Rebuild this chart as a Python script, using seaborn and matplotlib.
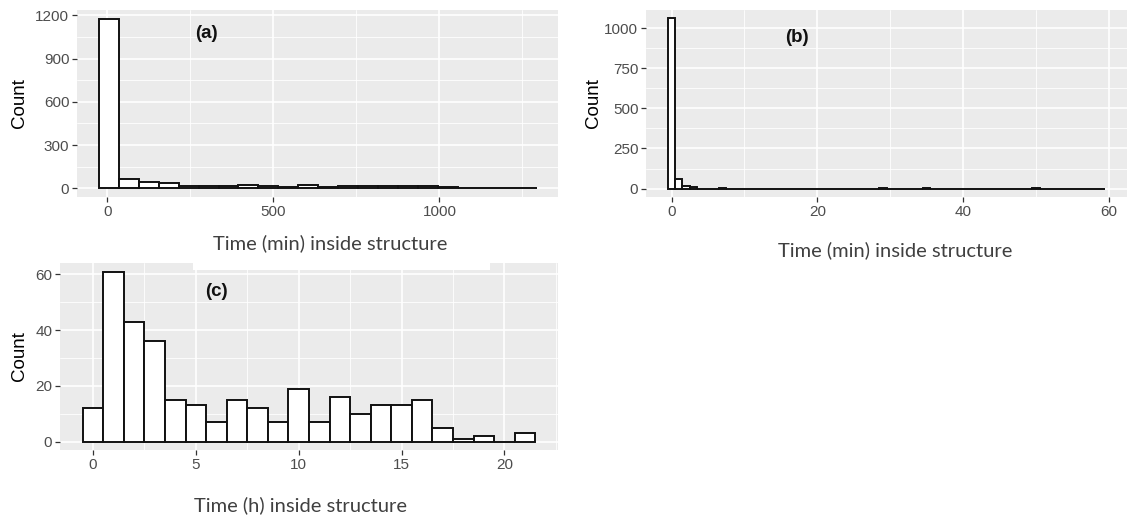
import numpy as np
import pandas as pd
import matplotlib
matplotlib.use("Agg")
import matplotlib.pyplot as plt
import seaborn as sns
from matplotlib.ticker import MultipleLocator
from matplotlib.patches import Rectangle

# ---------------- data (counts per bin) ----------------
# (a) time in minutes, bins of 60 min
counts_a = [1177, 65, 42, 37, 18, 18, 14, 21, 16, 12, 21, 12,
            18, 18, 18, 18, 18, 9, 2, 1, 2, 1]
binwidth_a = 60
first_edge_a = -25

# (b) time in minutes, bins of 1 min (0..59)
counts_b = [1062, 60, 18, 12, 0, 0, 0, 6, 0, 0,
            0, 0, 0, 0, 0, 0, 0, 0, 0, 0,
            0, 0, 0, 0, 0, 0, 0, 0, 0, 6,
            0, 0, 0, 0, 0, 6, 0, 0, 0, 0,
            0, 0, 0, 0, 0, 0, 0, 0, 0, 0,
            6, 0, 0, 0, 0, 0, 0, 0, 0, 0]
binwidth_b = 1
first_edge_b = -0.5

# (c) time in hours, bins of 1 h (0..21)
counts_c = [12, 61, 43, 36, 15, 13, 7, 15, 12, 7, 19, 7,
            16, 10, 13, 13, 15, 5, 1, 2, 0, 3]
binwidth_c = 1
first_edge_c = -0.5

panel_labels = ["(a)", "(b)", "(c)"]
x_titles = ["Time (min) inside structure", "Time (min) inside structure",
            "Time (h) inside structure"]
y_title = "Count"

# ---------------- style ----------------
sns.set_theme(style="darkgrid")
plt.rcParams["font.family"] = ["Liberation Sans", "DejaVu Sans"]

PANEL_BG = "#EBEBEB"
TICK_COL = "#333333"
TICKLAB_COL = "#4D4D4D"

W, H = 1131, 515
fig = plt.figure(figsize=(W / 100, H / 100), dpi=100)
fig.patch.set_facecolor("white")


def px_axes(x0, y0, x1, y1):
    return fig.add_axes([x0 / W, 1 - y1 / H, (x1 - x0) / W, (y1 - y0) / H])


def make_hist(ax, counts, bw, first_edge, xlim, ylim, xmaj, ymaj, labelpad):
    counts = [float(c) for c in counts]
    nb = len(counts)
    centers = [first_edge + bw * (i + 0.5) for i in range(nb)]
    df = pd.DataFrame({"x": centers, "n": counts})
    sns.histplot(data=df, x="x", weights="n", binwidth=bw,
                 binrange=(first_edge, first_edge + bw * nb), ax=ax,
                 color="white", edgecolor="#111111", linewidth=1.4,
                 alpha=1, zorder=3)
    ax.set_facecolor(PANEL_BG)
    ax.set_xlim(*xlim)
    ax.set_ylim(*ylim)
    ax.xaxis.set_major_locator(MultipleLocator(xmaj))
    ax.xaxis.set_minor_locator(MultipleLocator(xmaj / 2))
    ax.yaxis.set_major_locator(MultipleLocator(ymaj))
    ax.yaxis.set_minor_locator(MultipleLocator(ymaj / 2))
    ax.grid(which="major", color="white", linewidth=1.2, zorder=0)
    ax.grid(which="minor", color="white", linewidth=0.6, zorder=0)
    ax.set_axisbelow(True)
    for s in ax.spines.values():
        s.set_visible(False)
    ax.tick_params(which="major", length=3.5, width=0.9, color=TICK_COL,
                   labelcolor=TICKLAB_COL, labelsize=11, pad=2,
                   bottom=True, left=True)
    ax.tick_params(which="minor", length=0)
    ax.set_xlabel("")
    ax.set_ylabel(y_title, fontsize=13.5, color="black", labelpad=labelpad)


label_font = dict(ha="center", va="center", fontsize=13.5, fontweight="bold",
                  color="#111111", zorder=5)

# (a)
ax_a = px_axes(77, 10, 558, 197)
make_hist(ax_a, counts_a, binwidth_a, first_edge_a,
          (-91, 1357), (-59, 1236), 500, 300, 5)
ax_a.text(300, 1075, panel_labels[0], **label_font)

# (b)
ax_b = px_axes(646, 10, 1127, 197)
make_hist(ax_b, counts_b, binwidth_b, first_edge_b,
          (-3.5, 62.5), (-53, 1115), 20, 250, 2)
ax_b.text(17.2, 945, panel_labels[1], **label_font)

# (c)
ax_c = px_axes(60, 263, 558, 450)
make_hist(ax_c, counts_c, binwidth_c, first_edge_c,
          (-1.6, 22.6), (-3.05, 64.05), 5, 20, 5)
ax_c.text(6.0, 54, panel_labels[2], **label_font)

# x titles (separate text, as in the reference)
title_font = dict(fontsize=14.5, color="#404040", family=["Lato", "DejaVu Sans"],
                  ha="center", va="center")
fig.text(330 / W, 1 - 243 / H, x_titles[0], **title_font)
fig.text(895 / W, 1 - 250 / H, x_titles[1], **title_font)
fig.text(301 / W, 1 - 505 / H, x_titles[2], **title_font)

# white strip overlapping the top of panel (c), as in the reference image
fig.patches.append(Rectangle((193 / W, 1 - 270 / H), (490 - 193) / W, 15 / H,
                             transform=fig.transFigure, facecolor="white",
                             edgecolor="none", zorder=10))

fig.savefig("out.png", dpi=100, facecolor="white")
